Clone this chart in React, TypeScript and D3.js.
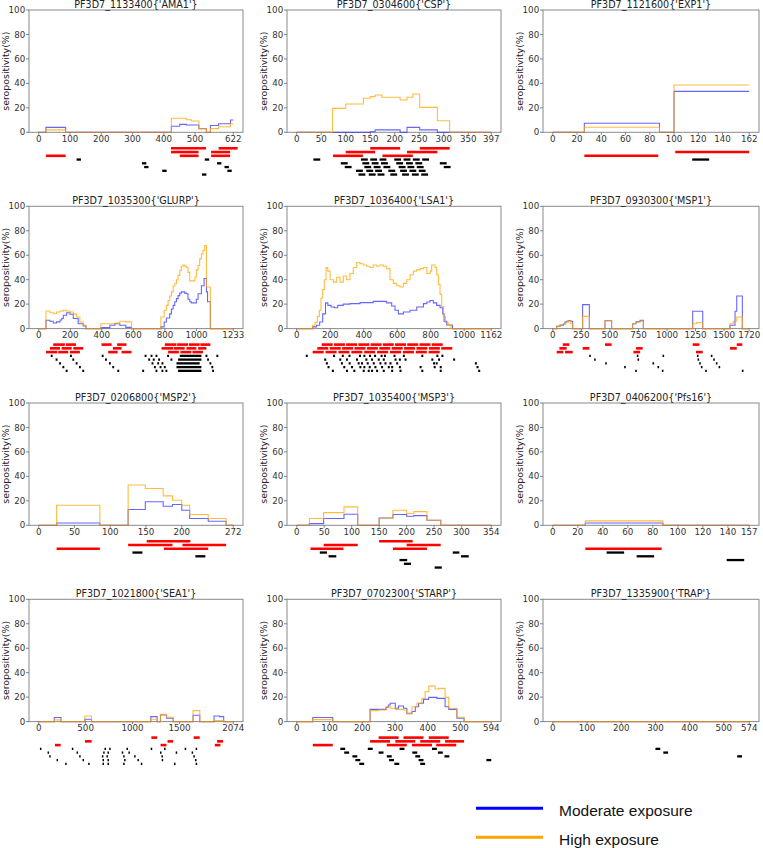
import React from "react";
import * as d3 from "d3";

type Pt = [number, number];
type Seg = [number, number, number];

// ---------- AMA1 ----------
const AMA1_ticks = [0, 100, 200, 300, 400, 500, 622];
const AMA1_moderate: Pt[] = [[0,0],[23,4],[86,0],[424,5],[451,6.5],[472,6],[512,3],[536,0],[549,5.5],[575,7],[613,10],[622,10]];
const AMA1_high: Pt[] = [[0,0],[23,2],[86,0],[424,11.5],[472,10.3],[488,9.3],[512,3],[536,0],[549,3],[575,4.5],[613,7],[622,7]];
const AMA1_red: Seg[] = [[423,535,0],[575,636,0],[423,511,1],[551,612,1],[23,86,2],[451,511,2],[551,612,2]];
const AMA1_black: Seg[] = [[121,135,3],[531,545,3],[330,344,4],[570,584,4],[337,351,5],[594,608,5],[395,409,6],[603,617,6],[522,536,7]];

// ---------- CSP ----------
const CSP_ticks = [0, 50, 100, 150, 200, 250, 300, 350, 397];
const CSP_moderate: Pt[] = [[0,0],[150,0.5],[160,2],[211,0],[225,4],[251,2],[287,0],[397,0]];
const CSP_high: Pt[] = [[0,0],[73,19.6],[100,23.2],[136,27.8],[150,29.2],[160,30.5],[174,28.6],[211,26.4],[225,28.6],[237,31.3],[251,20.4],[287,9.5],[312,0],[397,0]];
const CSP_red: Seg[] = [[150,211,0],[251,312,0],[100,160,1],[225,287,1],[74,135,2],[175,237,2]];
const CSP_black: Seg[] = [
  [34,48,3],[131,145,3],[150,164,3],[169,183,3],[199,213,3],[218,232,3],[237,251,3],[256,270,3],
  [90,104,4],[134,148,4],[153,167,4],[172,186,4],[203,217,4],[223,237,4],[242,256,4],[292,306,4],
  [98,112,5],[138,152,5],[157,171,5],[177,191,5],[208,222,5],[226,240,5],[245,259,5],[300,314,5],
  [121,135,6],[142,156,6],[160,174,6],[187,201,6],[211,225,6],[230,244,6],[249,263,6],
  [126,140,7],[147,161,7],[165,179,7],[191,205,7],[215,229,7],[235,249,7],[254,268,7]];

// ---------- EXP1 ----------
const EXP1_ticks = [0, 20, 40, 60, 80, 100, 120, 140, 162];
const EXP1_moderate: Pt[] = [[0,0],[26,7.4],[88,0],[100,33.5],[162,33.5]];
const EXP1_high: Pt[] = [[0,0],[26,4.1],[88,0],[100,38.7],[162,38.7]];
const EXP1_red: Seg[] = [[101,162,1],[26,87,2]];
const EXP1_black: Seg[] = [[115,129,3]];

// ---------- GLURP ----------
const GLURP_ticks = [0, 200, 400, 600, 800, 1000, 1233];
const GLURP_moderate: Pt[] = [[0,0],[46,6.8],[71,6],[92,4.6],[113,5.5],[135,7],[146,8.2],[156,10.9],[177,13],[198,11.7],[219,8.2],[250,4],[282,2.2],[299,0],[394,0.8],[451,2.7],[483,4],[514,2.7],[552,1],[588,0],[774,1.4],[795,5.4],[809,8.7],[830,12],[841,16],[852,19],[862,22],[873,24.5],[883,27],[894,29],[904,30],[925,29],[936,28.5],[946,24],[957,22],[967,21],[999,24],[1010,28.5],[1031,35],[1048,41],[1063,30],[1070,22],[1088,0],[1233,0]];
const GLURP_high: Pt[] = [[0,0],[46,14.4],[71,13],[92,12.2],[113,13.6],[135,14.4],[156,15],[177,14.4],[198,13.6],[219,12],[240,9.5],[261,5.4],[282,2.7],[299,0],[394,4],[483,4.5],[514,6],[552,5.5],[588,0],[774,9.5],[795,15],[809,19],[820,23],[830,26.6],[841,30],[852,34.8],[862,36.7],[873,40],[883,43.5],[894,47.6],[904,51],[915,52],[925,51],[936,50],[946,46],[957,39],[978,39],[990,42],[999,48],[1010,51.6],[1020,57],[1031,61],[1041,64],[1052,68],[1063,34],[1088,0],[1233,0]];
const GLURP_red: Seg[] = [
  [92,166,0],[172,236,0],[398,462,0],[497,556,0],[799,873,0],[877,946,0],[951,1020,0],[1024,1088,0],
  [71,135,1],[145,209,1],[219,282,1],[470,525,1],[778,852,1],[856,925,1],[936,999,1],[1010,1063,1],
  [46,118,2],[124,187,2],[198,261,2],[440,500,2],[525,588,2],[820,888,2],[898,967,2],[974,1041,2]];
const GLURP_black: Seg[] = [
  [76,88,3],[198,210,3],[399,411,3],[671,683,3],[709,721,3],[740,752,3],[814,826,3],[894,1031,3],[1057,1069,3],[1126,1138,3],
  [107,119,4],[213,225,4],[420,432,4],[694,706,4],[723,735,4],[757,769,4],[835,847,4],[883,1031,4],[1067,1079,4],
  [129,141,5],[234,246,5],[445,457,5],[715,727,5],[751,763,5],[778,790,5],[873,1020,5],[1082,1094,5],
  [150,162,6],[255,267,6],[466,478,6],[730,742,6],[766,778,6],[793,805,6],[873,1031,6],[1094,1106,6],
  [171,183,7],[276,288,7],[498,510,7],[656,668,7],[740,752,7],[778,790,7],[803,815,7],[883,1031,7],[1099,1111,7]];

// ---------- LSA1 ----------
const LSA1_ticks = [0, 200, 400, 600, 800, 1000, 1162];
const LSA1_moderate: Pt[] = [[0,0],[95,1.4],[118,2.7],[137,5.4],[155,12],[172,21],[186,19],[205,17.7],[225,17],[245,19],[278,20],[318,20.4],[378,21.2],[457,22.3],[537,21],[567,18.5],[587,15],[607,12],[637,13.6],[677,15],[717,17.7],[757,20.4],[777,21.8],[796,23],[816,21],[836,19],[856,17],[872,12],[880,6],[896,3],[930,0],[1162,0]];
const LSA1_high: Pt[] = [[0,0],[95,2.7],[109,5],[123,10],[135,15],[145,25],[155,32],[165,40],[175,50],[185,47],[199,40],[219,38],[239,42],[258,38],[278,43],[298,40],[318,45],[338,50],[358,54],[378,53],[398,52],[418,51],[437,50],[457,52],[477,51],[497,52],[517,51],[537,49],[557,40],[577,37],[597,35],[617,34],[637,37],[657,40],[677,44],[697,47],[717,48],[737,49],[757,50],[777,45],[797,47],[806,52],[826,50],[836,44],[846,36],[856,28],[866,18],[876,10],[888,5],[905,3],[920,0],[1162,0]];
const LSA1_red: Seg[] = [
  [149,215,0],[222,288,0],[295,361,0],[368,434,0],[441,507,0],[514,580,0],[587,653,0],[660,726,0],[733,799,0],[806,872,0],
  [123,189,1],[197,263,1],[271,337,1],[345,411,1],[419,485,1],[493,559,1],[567,633,1],[641,707,1],[715,781,1],[789,855,1],[863,929,1],
  [95,161,2],[172,238,2],[249,315,2],[326,392,2],[403,469,2],[480,546,2],[557,623,2],[634,700,2],[711,777,2],[788,854,2]];
const LSA1_black: Seg[] = [
  [54,66,3],[217,229,3],[269,281,3],[309,321,3],[372,384,3],[398,410,3],[432,444,3],[462,474,3],[501,513,3],[521,533,3],[578,590,3],[634,646,3],[744,756,3],[834,846,3],[864,876,3],
  [164,176,4],[254,266,4],[294,306,4],[354,366,4],[410,422,4],[444,456,4],[484,496,4],[514,526,4],[584,596,4],[610,622,4],[644,656,4],[804,816,4],[844,856,4],[934,946,4],
  [174,186,5],[264,276,5],[310,322,5],[364,376,5],[384,396,5],[418,430,5],[454,466,5],[494,506,5],[524,536,5],[554,566,5],[594,606,5],[814,826,5],[830,842,5],[1064,1076,5],
  [184,196,6],[278,290,6],[324,336,6],[374,386,6],[398,410,6],[430,442,6],[464,476,6],[504,516,6],[544,556,6],[564,576,6],[610,622,6],[734,746,6],[818,830,6],[854,866,6],[1074,1086,6],
  [210,222,7],[294,306,7],[338,350,7],[394,406,7],[424,436,7],[444,456,7],[474,486,7],[514,526,7],[564,576,7],[614,626,7],[744,756,7],[854,866,7],[1084,1096,7]];

// ---------- MSP1 ----------
const MSP1_ticks = [0, 250, 500, 750, 1000, 1250, 1500, 1720];
const MSP1_moderate: Pt[] = [[0,0],[34,1.9],[63,2.7],[92,3.8],[107,5.4],[121,6],[136,6.5],[156,6],[174,0],[261,19.6],[320,0],[457,6.5],[515,0],[699,4],[729,5.7],[764,6.8],[793,0],[1225,14.2],[1313,0],[1552,2.7],[1596,14.2],[1611,26.7],[1660,0],[1720,0]];
const MSP1_high: Pt[] = [[0,0],[34,2],[63,3.3],[92,3.8],[107,4.6],[121,5.4],[136,6.3],[156,4],[174,0],[261,10],[320,0],[457,6.5],[515,0],[699,4],[729,5.4],[764,6],[793,0],[1225,4],[1260,5],[1313,0],[1552,4],[1581,6],[1611,9.5],[1660,0],[1720,0]];
const MSP1_red: Seg[] = [[87,145,0],[457,515,0],[1225,1284,0],[1611,1660,0],[57,121,1],[261,320,1],[729,787,1],[1552,1611,1],[34,92,2],[107,174,2],[706,765,2],[1254,1313,2]];
const MSP1_black: Seg[] = [
  [319,333,3],[736,750,3],[961,975,3],[1262,1276,3],[1384,1398,3],
  [362,376,4],[742,756,4],[1268,1282,4],[1405,1419,4],
  [459,473,5],[873,887,5],[1282,1296,5],[1428,1442,5],
  [625,639,6],[917,931,6],[1297,1311,6],[1452,1466,6],
  [722,736,7],[955,969,7],[1335,1349,7],[1656,1670,7]];

// ---------- MSP2 ----------
const MSP2_ticks = [0, 50, 100, 150, 200, 272];
const MSP2_moderate: Pt[] = [[0,0],[25,1.9],[85.5,0],[125,12.9],[149,19.2],[174,15.6],[187,17],[200,12.3],[211,5.5],[237,3.3],[262,0],[272,0]];
const MSP2_high: Pt[] = [[0,0],[25,16.4],[85.5,0],[125,32.9],[149,30.1],[174,24.1],[187,20.5],[200,16.4],[211,8.8],[237,5.5],[262,0],[272,0]];
const MSP2_red: Seg[] = [[151,212,0],[125,187,1],[201,262,1],[25,85.5,2],[175,237,2]];
const MSP2_black: Seg[] = [[131,145,3],[219,233,4]];

// ---------- MSP3 ----------
const MSP3_ticks = [0, 50, 100, 150, 200, 250, 300, 354];
const MSP3_moderate: Pt[] = [[0,0],[23,1.4],[49,5.5],[86,9],[111,0],[150,6],[175,8.8],[200,7.4],[213,7.9],[237,4.1],[262,0],[354,0]];
const MSP3_high: Pt[] = [[0,0],[23,5.5],[49,10.4],[86,15.1],[111,0],[150,6],[175,12.3],[200,9.6],[213,11.2],[237,4.1],[262,0],[354,0]];
const MSP3_red: Seg[] = [[150,211,0],[49,111,1],[200,262,1],[25,85,2],[175,237,2]];
const MSP3_black: Seg[] = [[42,55,3],[284,296,3],[58,72,4],[299,313,4],[187,201,5],[195,208,6],[251,264,7]];

// ---------- Pfs16 ----------
const Pfs16_ticks = [0, 20, 40, 60, 80, 100, 120, 140, 157];
const Pfs16_moderate: Pt[] = [[0,0],[26,1.9],[88,0],[157,0]];
const Pfs16_high: Pt[] = [[0,0],[26,3.6],[88,0],[157,0]];
const Pfs16_red: Seg[] = [[26,87,2]];
const Pfs16_black: Seg[] = [[43,57,3],[67,81,4],[139,153,5]];

// ---------- SEA1 ----------
const SEA1_ticks = [0, 500, 1000, 1500, 2074];
const SEA1_moderate: Pt[] = [[0,0],[166,3.3],[237,0],[492,1.9],[563,0],[1195,4.1],[1262,0],[1298,5.4],[1362,2.7],[1433,0],[1645,5.2],[1717,0],[1869,4.6],[1929,4.1],[1972,0],[2074,0]];
const SEA1_high: Pt[] = [[0,0],[166,1.4],[237,0],[492,4.6],[563,0],[1195,1.9],[1262,0],[1298,6],[1362,3.5],[1433,0],[1645,9],[1717,0],[1869,0.8],[1972,0],[2074,0]];
const SEA1_red: Seg[] = [[1201,1263,0],[1652,1716,0],[493,564,1],[1373,1432,1],[1901,1965,1],[173,234,2],[1299,1362,2],[1877,1937,2]];
const SEA1_black: Seg[] = [
  [13,29,3],[353,369,3],[701,717,3],[751,767,3],[935,951,3],[1194,1210,3],[1336,1352,3],[1556,1572,3],[1673,1689,3],
  [94,110,4],[403,419,4],[687,703,4],[733,749,4],[885,901,4],[956,972,4],[1293,1309,4],[1460,1476,4],[1630,1646,4],
  [112,128,5],[431,447,5],[673,689,5],[722,738,5],[900,916,5],[1017,1033,5],[1308,1324,5],[1648,1664,5],
  [190,206,6],[467,483,6],[680,696,6],[733,749,6],[910,926,6],[1052,1068,6],[1311,1327,6],[1666,1682,6],
  [282,298,7],[527,543,7],[680,696,7],[733,749,7],[900,916,7],[1088,1104,7],[1442,1458,7],[1673,1689,7]];

// ---------- STARP ----------
const STARP_ticks = [0, 100, 200, 300, 400, 500, 594];
const STARP_moderate: Pt[] = [[0,0],[49,3.3],[110,0],[224,10],[273,11.7],[280,13.6],[285.5,15],[301,10.9],[311,12.8],[326,10.9],[336,6.8],[352,8.2],[362,12.2],[372,15],[387,18.2],[403,19.8],[428,19],[453,12.2],[464,10],[489,2.7],[511,0],[594,0]];
const STARP_high: Pt[] = [[0,0],[49,1.6],[110,0],[224,9],[250,9.5],[273,12.2],[285.5,10.9],[301,10],[326,9.5],[336,6.3],[352,12.2],[367,15],[382,19],[392,24.5],[403,29],[423,26.6],[433,27.2],[453,19.8],[464,10.9],[489,3.5],[511,0],[594,0]];
const STARP_red: Seg[] = [
  [250,311,0],[326,387,0],[403,464,0],
  [224,285,1],[301,362,1],[377,438,1],[453,511,1],
  [49,110,2],[275,336,2],[352,413,2],[426,487,2]];
const STARP_black: Seg[] = [
  [133,148,3],[217,232,3],[314,329,3],[413,428,3],
  [145,160,4],[250,265,4],[353,368,4],[431,446,4],
  [170,185,5],[275,290,5],[362,377,5],[451,466,5],
  [179,194,6],[282,297,6],[372,387,6],[579,594,6],
  [191,206,7],[298,313,7],[377,392,7]];

// ---------- TRAP ----------
const TRAP_ticks = [0, 100, 200, 300, 400, 500, 574];
const TRAP_moderate: Pt[] = [[0,0],[574,0]];
const TRAP_high: Pt[] = [[0,0],[574,0]];
const TRAP_red: Seg[] = [];
const TRAP_black: Seg[] = [[300,314,3],[323,337,4],[539,553,5]];

const Y_TICKS = [0, 20, 40, 60, 80, 100];
const LEGEND_LABELS = ["Moderate exposure", "High exposure"];

const PANELS = [
  { title: "PF3D7_1133400{'AMA1'}", length: 622, ticks: AMA1_ticks, moderate: AMA1_moderate, high: AMA1_high, red: AMA1_red, black: AMA1_black },
  { title: "PF3D7_0304600{'CSP'}", length: 397, ticks: CSP_ticks, moderate: CSP_moderate, high: CSP_high, red: CSP_red, black: CSP_black },
  { title: "PF3D7_1121600{'EXP1'}", length: 162, ticks: EXP1_ticks, moderate: EXP1_moderate, high: EXP1_high, red: EXP1_red, black: EXP1_black },
  { title: "PF3D7_1035300{'GLURP'}", length: 1233, ticks: GLURP_ticks, moderate: GLURP_moderate, high: GLURP_high, red: GLURP_red, black: GLURP_black },
  { title: "PF3D7_1036400{'LSA1'}", length: 1162, ticks: LSA1_ticks, moderate: LSA1_moderate, high: LSA1_high, red: LSA1_red, black: LSA1_black },
  { title: "PF3D7_0930300{'MSP1'}", length: 1720, ticks: MSP1_ticks, moderate: MSP1_moderate, high: MSP1_high, red: MSP1_red, black: MSP1_black },
  { title: "PF3D7_0206800{'MSP2'}", length: 272, ticks: MSP2_ticks, moderate: MSP2_moderate, high: MSP2_high, red: MSP2_red, black: MSP2_black },
  { title: "PF3D7_1035400{'MSP3'}", length: 354, ticks: MSP3_ticks, moderate: MSP3_moderate, high: MSP3_high, red: MSP3_red, black: MSP3_black },
  { title: "PF3D7_0406200{'Pfs16'}", length: 157, ticks: Pfs16_ticks, moderate: Pfs16_moderate, high: Pfs16_high, red: Pfs16_red, black: Pfs16_black },
  { title: "PF3D7_1021800{'SEA1'}", length: 2074, ticks: SEA1_ticks, moderate: SEA1_moderate, high: SEA1_high, red: SEA1_red, black: SEA1_black },
  { title: "PF3D7_0702300{'STARP'}", length: 594, ticks: STARP_ticks, moderate: STARP_moderate, high: STARP_high, red: STARP_red, black: STARP_black },
  { title: "PF3D7_1335900{'TRAP'}", length: 574, ticks: TRAP_ticks, moderate: TRAP_moderate, high: TRAP_high, red: TRAP_red, black: TRAP_black },
];

const COL_X = [29, 287, 543];
const COL_W = [214, 214, 216];
const ROW_Y = [10, 206.3, 403, 599.3];
const PLOT_H = 122.3;
const FONT = "'DejaVu Sans', sans-serif";
const BLUE = "#0000ff";
const ORANGE = "#ffa500";

function Panel({ p, col, row }: { p: (typeof PANELS)[number]; col: number; row: number }) {
  const x0 = COL_X[col];
  const w = COL_W[col];
  const y0 = ROW_Y[row];
  const h = PLOT_H;
  const x = d3.scaleLinear().domain([-0.05 * p.length, 1.05 * p.length]).range([x0, x0 + w]);
  const y = d3.scaleLinear().domain([0, 100]).range([y0 + h, y0]);
  const line = d3.line<Pt>().x((d) => x(d[0])).y((d) => y(d[1])).curve(d3.curveStepAfter);
  const segY = (r: number) => y0 + h + 16 + 3.75 * r;
  return (
    <g>
      <rect x={x0} y={y0} width={w} height={h} fill="white" stroke="#8a8a8a" strokeWidth={1} />
      {Y_TICKS.map((t) => (
        <g key={"y" + t}>
          <line x1={x0 - 3} x2={x0} y1={y(t)} y2={y(t)} stroke="#666" strokeWidth={0.8} />
          <text x={x0 - 3.8} y={y(t) + 3.1} textAnchor="end" fontSize={8.7} fontFamily={FONT} fill="#333">{t}</text>
        </g>
      ))}
      {p.ticks.map((t) => (
        <g key={"x" + t}>
          <line x1={x(t)} x2={x(t)} y1={y0 + h} y2={y0 + h + 2.5} stroke="#666" strokeWidth={0.8} />
          <text x={x(t)} y={y0 + h + 9.2} textAnchor="middle" fontSize={8.7} fontFamily={FONT} fill="#333">{t}</text>
        </g>
      ))}
      <text x={(x0 + w / 2)} y={y0 - 2.2} textAnchor="middle" fontSize={9.6} fontFamily={FONT} fill="#222">{p.title}</text>
      <text transform={`translate(${x0 - 20.5},${y0 + h / 2}) rotate(-90)`} textAnchor="middle" fontSize={9.4} fontFamily={FONT} fill="#222">seropositivity(%)</text>
      <path d={line(p.moderate) || ""} fill="none" stroke={BLUE} strokeOpacity={0.6} strokeWidth={1.1} />
      <path d={line(p.high) || ""} fill="none" stroke={ORANGE} strokeOpacity={0.75} strokeWidth={1.1} />
      {p.red.map((s, i) => (
        <line key={"r" + i} x1={x(s[0])} x2={x(s[1])} y1={segY(s[2])} y2={segY(s[2])} stroke="#ff0000" strokeWidth={2.6} />
      ))}
      {p.black.map((s, i) => (
        <line key={"b" + i} x1={x(s[0])} x2={x(s[1])} y1={segY(s[2])} y2={segY(s[2])} stroke="#000" strokeWidth={2.3} />
      ))}
    </g>
  );
}

export default function App() {
  return (
    <svg width={763} height={848} style={{ position: "absolute", left: 0, top: 0, background: "white" }}>
      <rect x={0} y={0} width={763} height={848} fill="white" />
      {PANELS.map((p, i) => (
        <Panel key={p.title} p={p} col={i % 3} row={Math.floor(i / 3)} />
      ))}
      <g>
        <line x1={476} x2={543} y1={808.3} y2={808.3} stroke={BLUE} strokeWidth={3} />
        <text x={559} y={816} fontSize={15.5} fontFamily="'Liberation Sans', Arial, sans-serif" fill="#111">{LEGEND_LABELS[0]}</text>
        <line x1={476} x2={543} y1={837.3} y2={837.3} stroke={ORANGE} strokeWidth={3} />
        <text x={559} y={844.5} fontSize={15.5} fontFamily="'Liberation Sans', Arial, sans-serif" fill="#111">{LEGEND_LABELS[1]}</text>
      </g>
    </svg>
  );
}
